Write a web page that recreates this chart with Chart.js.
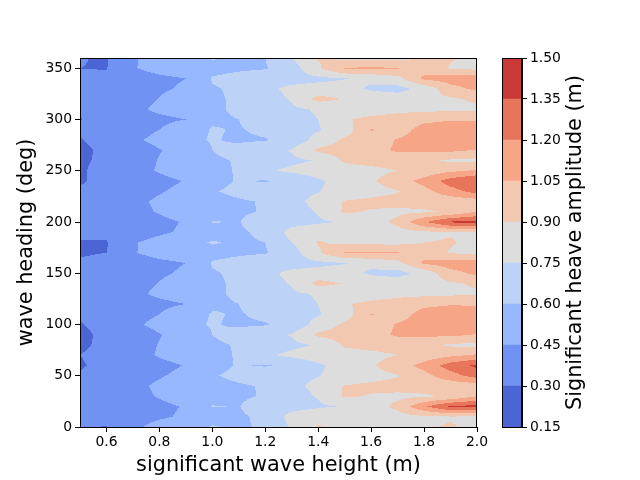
<!DOCTYPE html>
<html>
<head>
<meta charset="utf-8">
<script src="https://cdn.jsdelivr.net/npm/chart.js@4.4.1/dist/chart.umd.min.js"></script>
<style>
  body { margin: 0; background: #fff; }
  #wrap { position: relative; width: 640px; height: 480px; }
  #wrap canvas { position: absolute; left: 0; top: 0; }
</style>
</head>
<body>
<div id="wrap">
  <canvas id="contour" width="640" height="480"></canvas>
  <canvas id="colorbar" width="640" height="480"></canvas>
</div>
<script>
// grid: columns = wave height (m), rows = heading (deg)
const waveHeights = [0.5, 0.6, 0.7, 0.8, 0.9, 1.0, 1.1, 1.2, 1.3, 1.4, 1.5, 1.6, 1.7, 1.8, 1.9, 2.0];
const headings = [0, 10, 20, 30, 40, 50, 60, 70, 80, 90, 100, 110, 120, 130, 140, 150, 160, 170, 180,
                  190, 200, 210, 220, 230, 240, 250, 260, 270, 280, 290, 300, 310, 320, 330, 340, 350, 360];
const heave = [
  [0.31, 0.295, 0.42, 0.50, 0.53, 0.61, 0.58, 0.62, 0.77, 0.91, 0.87, 0.85, 0.86, 0.89, 0.91, 0.87],   // 0
  [0.32, 0.34, 0.39, 0.43, 0.47, 0.55, 0.58, 0.63, 0.80, 0.85, 0.86, 0.86, 0.85, 0.87, 0.89, 0.88],    // 10
  [0.33, 0.36, 0.39, 0.42, 0.46, 0.605, 0.595, 0.68, 0.70, 0.73, 0.76, 0.84, 0.93, 1.18, 1.37, 1.40],  // 20
  [0.32, 0.299, 0.41, 0.46, 0.51, 0.56, 0.58, 0.61, 0.70, 0.76, 0.92, 0.89, 0.87, 0.88, 0.92, 1.05],   // 30
  [0.32, 0.34, 0.42, 0.47, 0.52, 0.56, 0.585, 0.61, 0.72, 0.78, 0.91, 0.93, 0.95, 0.96, 0.95, 0.97],   // 40
  [0.31, 0.34, 0.40, 0.44, 0.48, 0.59, 0.63, 0.68, 0.72, 0.745, 0.80, 0.85, 0.89, 1.00, 1.14, 1.26],   // 50
  [0.29, 0.33, 0.38, 0.42, 0.455, 0.56, 0.61, 0.59, 0.63, 0.73, 0.80, 0.88, 0.98, 1.10, 1.27, 1.38],   // 60
  [0.30, 0.33, 0.41, 0.46, 0.50, 0.57, 0.61, 0.73, 0.78, 0.82, 0.84, 0.86, 0.90, 0.96, 1.02, 1.07],    // 70
  [0.285, 0.32, 0.40, 0.455, 0.51, 0.58, 0.61, 0.68, 0.72, 0.76, 0.92, 0.95, 0.96, 0.93, 0.88, 0.86], // 80
  [0.28, 0.32, 0.39, 0.445, 0.49, 0.60, 0.65, 0.70, 0.76, 0.93, 0.97, 1.00, 1.07, 1.08, 1.08, 1.04],   // 90
  [0.295, 0.33, 0.43, 0.48, 0.57, 0.61, 0.58, 0.59, 0.66, 0.80, 0.93, 0.98, 1.06, 1.10, 1.12, 1.20],   // 100
  [0.31, 0.34, 0.41, 0.45, 0.53, 0.61, 0.59, 0.63, 0.70, 0.74, 0.82, 1.06, 0.99, 1.10, 1.12, 1.15],    // 110
  [0.298, 0.33, 0.39, 0.42, 0.45, 0.58, 0.60, 0.68, 0.72, 0.75, 0.89, 0.93, 0.96, 1.02, 1.04, 1.03],   // 120
  [0.31, 0.33, 0.42, 0.475, 0.51, 0.58, 0.62, 0.68, 0.73, 0.76, 0.82, 0.84, 0.86, 0.86, 0.87, 0.88],   // 130
  [0.31, 0.34, 0.40, 0.455, 0.52, 0.58, 0.62, 0.70, 0.76, 0.95, 0.89, 0.84, 0.83, 0.85, 0.88, 0.92],   // 140
  [0.31, 0.34, 0.39, 0.43, 0.47, 0.59, 0.62, 0.72, 0.78, 0.80, 0.80, 0.73, 0.70, 0.80, 1.00, 1.08],    // 150
  [0.31, 0.33, 0.38, 0.42, 0.45, 0.61, 0.64, 0.68, 0.70, 0.72, 0.745, 0.78, 0.85, 1.08, 1.12, 1.14],   // 160
  [0.29, 0.30, 0.44, 0.50, 0.53, 0.56, 0.58, 0.59, 0.68, 0.88, 1.06, 1.07, 1.06, 0.98, 0.89, 0.86],    // 170
  [0.295, 0.29, 0.44, 0.49, 0.56, 0.61, 0.58, 0.60, 0.75, 0.91, 0.87, 0.86, 0.86, 0.90, 0.91, 0.87],   // 180
  [0.32, 0.34, 0.39, 0.43, 0.47, 0.55, 0.58, 0.63, 0.80, 0.85, 0.86, 0.86, 0.85, 0.87, 0.89, 0.88],    // 190
  [0.33, 0.36, 0.39, 0.42, 0.46, 0.605, 0.595, 0.68, 0.70, 0.73, 0.76, 0.84, 0.93, 1.18, 1.37, 1.40],  // 200
  [0.32, 0.299, 0.41, 0.46, 0.51, 0.56, 0.58, 0.61, 0.70, 0.76, 0.92, 0.89, 0.87, 0.88, 0.92, 1.05],   // 210
  [0.32, 0.34, 0.42, 0.47, 0.52, 0.56, 0.585, 0.61, 0.72, 0.78, 0.91, 0.93, 0.95, 0.96, 0.95, 0.97],   // 220
  [0.31, 0.34, 0.40, 0.44, 0.48, 0.59, 0.63, 0.68, 0.72, 0.745, 0.80, 0.85, 0.89, 1.00, 1.14, 1.26],   // 230
  [0.29, 0.33, 0.38, 0.42, 0.455, 0.56, 0.61, 0.59, 0.63, 0.73, 0.80, 0.88, 0.98, 1.10, 1.27, 1.36],   // 240
  [0.29, 0.33, 0.41, 0.46, 0.50, 0.57, 0.61, 0.73, 0.78, 0.82, 0.84, 0.86, 0.90, 0.96, 1.02, 1.07],    // 250
  [0.285, 0.32, 0.40, 0.455, 0.51, 0.58, 0.61, 0.68, 0.72, 0.76, 0.92, 0.95, 0.96, 0.93, 0.88, 0.86], // 260
  [0.28, 0.32, 0.39, 0.445, 0.49, 0.60, 0.65, 0.70, 0.76, 0.93, 0.97, 1.00, 1.07, 1.08, 1.08, 1.04],   // 270
  [0.295, 0.33, 0.43, 0.48, 0.57, 0.61, 0.58, 0.59, 0.66, 0.80, 0.93, 0.98, 1.06, 1.10, 1.12, 1.18],   // 280
  [0.31, 0.34, 0.41, 0.45, 0.53, 0.61, 0.59, 0.63, 0.70, 0.74, 0.82, 1.06, 0.99, 1.10, 1.12, 1.15],    // 290
  [0.298, 0.33, 0.39, 0.42, 0.45, 0.58, 0.60, 0.68, 0.72, 0.75, 0.89, 0.93, 0.96, 1.02, 1.04, 1.03],   // 300
  [0.30, 0.33, 0.42, 0.475, 0.51, 0.58, 0.62, 0.68, 0.73, 0.76, 0.82, 0.84, 0.86, 0.86, 0.87, 0.88],   // 310
  [0.31, 0.34, 0.40, 0.455, 0.52, 0.58, 0.62, 0.70, 0.76, 0.95, 0.89, 0.84, 0.83, 0.85, 0.88, 0.92],   // 320
  [0.31, 0.34, 0.39, 0.43, 0.47, 0.59, 0.62, 0.72, 0.78, 0.80, 0.80, 0.73, 0.70, 0.80, 1.00, 1.08],    // 330
  [0.31, 0.33, 0.38, 0.42, 0.45, 0.61, 0.64, 0.68, 0.70, 0.72, 0.745, 0.78, 0.85, 1.08, 1.12, 1.14],   // 340
  [0.30, 0.295, 0.44, 0.50, 0.53, 0.56, 0.58, 0.59, 0.68, 0.88, 1.06, 1.07, 1.06, 0.98, 0.89, 0.86],   // 350
  [0.305, 0.29, 0.44, 0.49, 0.56, 0.61, 0.58, 0.60, 0.75, 0.91, 0.87, 0.86, 0.86, 0.90, 0.91, 0.87]    // 360
];

const levels = [0.15, 0.30, 0.45, 0.60, 0.75, 0.90, 1.05, 1.20, 1.35, 1.50];
// coolwarm sampled at the middle of each band
const levelColors = ['#4b65d5', '#7092f3', '#97b8ff', '#bcd2f7', '#dddddd',
                     '#f3c8b1', '#f7a587', '#e7755c', '#c93936'];
const xTicks = [0.6, 0.8, 1.0, 1.2, 1.4, 1.6, 1.8, 2.0];
const yTicks = [0, 50, 100, 150, 200, 250, 300, 350];

const FONT = "'DejaVu Sans', 'Liberation Sans', sans-serif";
const tickFont = { family: FONT, size: 13.9 };
const labelFont = { family: FONT, size: 20.8 };

const hexToRgb = h => [1, 3, 5].map(i => parseInt(h.slice(i, i + 2), 16));

// index of the grid cell holding v (clamped)
const cellOf = (arr, v) => {
  let i = 0;
  while (i < arr.length - 2 && v > arr[i + 1]) i++;
  return i;
};

// value at (xv, yv), linear across each grid cell like contourf
const sample = (xv, yv) => {
  const i = cellOf(waveHeights, xv);
  const j = cellOf(headings, yv);
  let tx = (xv - waveHeights[i]) / (waveHeights[i + 1] - waveHeights[i]);
  let ty = (yv - headings[j]) / (headings[j + 1] - headings[j]);
  tx = Math.min(1, Math.max(0, tx));
  ty = Math.min(1, Math.max(0, ty));
  const z00 = heave[j][i], z10 = heave[j][i + 1];
  const z01 = heave[j + 1][i], z11 = heave[j + 1][i + 1];
  return (z00 * (1 - tx) + z10 * tx) * (1 - ty) + (z01 * (1 - tx) + z11 * tx) * ty;
};

const bandOf = z => {
  for (let k = 0; k < levels.length - 1; k++) {
    if (z >= levels[k] && z < levels[k + 1]) return k;
  }
  return -1;
};

// fills the plot area band by band, using the chart's own scales
const contourFill = {
  id: 'contourFill',
  beforeDatasetsDraw(chart) {
    const { ctx, chartArea: a, scales: { x, y } } = chart;
    const w = Math.round(a.right - a.left), h = Math.round(a.bottom - a.top);
    const off = document.createElement('canvas');
    off.width = w;
    off.height = h;
    const octx = off.getContext('2d');
    const img = octx.createImageData(w, h);
    const rgb = levelColors.map(hexToRgb);
    for (let r = 0; r < h; r++) {
      const yv = y.getValueForPixel(a.top + r + 0.5);
      for (let c = 0; c < w; c++) {
        const xv = x.getValueForPixel(a.left + c + 0.5);
        const k = bandOf(sample(xv, yv));
        if (k < 0) continue;
        const p = (r * w + c) * 4;
        img.data[p] = rgb[k][0];
        img.data[p + 1] = rgb[k][1];
        img.data[p + 2] = rgb[k][2];
        img.data[p + 3] = 255;
      }
    }
    octx.putImageData(img, 0, 0);
    ctx.save();
    ctx.imageSmoothingEnabled = false;
    ctx.drawImage(off, a.left, a.top, w, h);
    ctx.restore();
  }
};

// matplotlib style box round the axes
const frame = {
  id: 'frame',
  afterDraw(chart, args, opts) {
    const { ctx, chartArea: a } = chart;
    ctx.save();
    ctx.strokeStyle = '#000';
    ctx.lineWidth = 1;
    ctx.strokeRect(Math.round(a.left) + 0.5, Math.round(a.top) + 0.5,
                   Math.round(a.right - a.left) - 1, Math.round(a.bottom - a.top));
    if (opts.label) {
      ctx.fillStyle = '#000';
      ctx.font = `${labelFont.size}px ${FONT}`;
      ctx.textAlign = 'center';
      ctx.textBaseline = 'middle';
      ctx.translate(opts.labelX, (a.top + a.bottom) / 2);
      ctx.rotate(-Math.PI / 2);
      ctx.fillText(opts.label, 0, 0);
    }
    ctx.restore();
  }
};

const gridPoints = [];
headings.forEach((hd, j) => waveHeights.forEach((wh, i) => gridPoints.push({ x: wh, y: hd, z: heave[j][i] })));

new Chart(document.getElementById('contour'), {
  type: 'scatter',
  data: { datasets: [{ data: gridPoints, pointRadius: 0, pointHoverRadius: 0 }] },
  options: {
    responsive: false,
    animation: false,
    events: [],
    layout: { padding: { left: 0, right: 163, top: 58, bottom: 0 } },
    plugins: { legend: { display: false }, tooltip: { enabled: false }, frame: {} },
    scales: {
      x: {
        type: 'linear', min: 0.5, max: 2.0,
        afterBuildTicks: s => { s.ticks = xTicks.map(v => ({ value: v })); },
        afterFit: s => { s.height = 53; },
        ticks: { callback: v => v.toFixed(1), font: tickFont, color: '#000', padding: 2, maxRotation: 0 },
        grid: { drawOnChartArea: false, tickLength: 5, tickColor: '#000' },
        border: { color: '#000' },
        title: { display: true, text: 'significant wave height (m)', font: labelFont, color: '#000', padding: { top: 0, bottom: 2 } }
      },
      y: {
        type: 'linear', min: 0, max: 360,
        afterBuildTicks: s => { s.ticks = yTicks.map(v => ({ value: v })); },
        afterFit: s => { s.width = 80; },
        ticks: { callback: v => String(v), font: tickFont, color: '#000', padding: 3 },
        grid: { drawOnChartArea: false, tickLength: 5, tickColor: '#000' },
        border: { color: '#000' },
        title: { display: true, text: 'wave heading (deg)', font: labelFont, color: '#000', padding: { top: 14, bottom: 0 } }
      }
    }
  },
  plugins: [contourFill, frame]
});

new Chart(document.getElementById('colorbar'), {
  type: 'bar',
  data: {
    labels: [''],
    datasets: levelColors.map((c, k) => ({
      data: [[levels[k], levels[k + 1]]],
      backgroundColor: c,
      borderWidth: 0,
      grouped: false,
      barPercentage: 1,
      categoryPercentage: 1
    }))
  },
  options: {
    responsive: false,
    animation: false,
    events: [],
    layout: { padding: { left: 502, right: 60, top: 58, bottom: 53 } },
    plugins: {
      legend: { display: false }, tooltip: { enabled: false },
      frame: { label: 'Significant heave amplitude (m)', labelX: 576 }
    },
    scales: {
      x: { display: false },
      y: {
        position: 'right', min: 0.15, max: 1.5,
        afterBuildTicks: s => { s.ticks = levels.map(v => ({ value: v })); },
        afterFit: s => { s.width = 58; },
        ticks: { callback: v => v.toFixed(2), font: tickFont, color: '#000', padding: 3 },
        grid: { drawOnChartArea: false, tickLength: 5, tickColor: '#000' },
        border: { color: '#000' }
      }
    }
  },
  plugins: [frame]
});
</script>
</body>
</html>
